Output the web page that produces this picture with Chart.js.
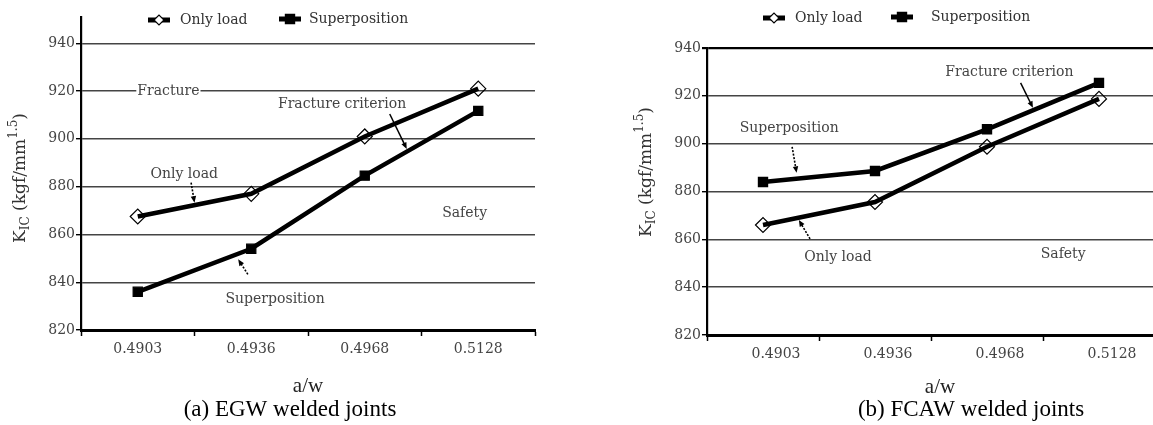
<!DOCTYPE html>
<html>
<head>
<meta charset="utf-8">
<script src="https://cdn.jsdelivr.net/npm/chart.js@4/dist/chart.umd.min.js"></script>
<style>
html, body { margin: 0; padding: 0; background: #fff; overflow: hidden; }
#wrap { position: relative; width: 1153px; height: 425px; overflow: hidden; }
.box { position: absolute; top: 0; height: 425px; }
#boxA { left: 0; width: 576px; }
#boxB { left: 576px; width: 600px; }
</style>
</head>
<body>
<div id="wrap">
    <div class="box" id="boxA"><canvas id="chartA"></canvas></div>
    <div class="box" id="boxB"><canvas id="chartB"></canvas></div>
</div>
<script>
// Données
const categories = ['0.4903', '0.4936', '0.4968', '0.5128'];
const yTicks = [820, 840, 860, 880, 900, 920, 940];
const seriesNames = ['Only load', 'Superposition'];
const egwOnlyLoad = [867.5, 877, 901, 921];
const egwSuperposition = [836, 854, 884.6, 911.7];
const fcawOnlyLoad = [866, 875.6, 898.7, 918.7];
const fcawSuperposition = [884, 888.6, 906, 925.4];
const captions = ['(a) EGW welded joints', '(b) FCAW welded joints'];
const xTitle = 'a/w';

const SERIF = '"DejaVu Serif", serif';
const TIMES = '"Liberation Serif", serif';

// Annotations (index de catégorie, valeur)
const notesA = [
    { text: 'Fracture', i: 0.27, v: 920, bg: true },
    { text: 'Fracture criterion', i: 1.80, v: 914.6 },
    { arrow: [2.22, 910.4, 2.37, 895.8] },
    { text: 'Only load', i: 0.41, v: 885 },
    { arrow: [0.47, 881.7, 0.50, 873.3], dotted: true },
    { text: 'Safety', i: 2.88, v: 868.7 },
    { text: 'Superposition', i: 1.21, v: 832.9 },
    { arrow: [0.97, 843.3, 0.885, 849.6], dotted: true }
];
const notesB = [
    { text: 'Superposition', i: 0.234, v: 906.6 },
    { arrow: [0.26, 898.7, 0.30, 887.8], dotted: true },
    { text: 'Fracture criterion', i: 2.20, v: 930 },
    { arrow: [2.30, 925.4, 2.41, 915] },
    { text: 'Only load', i: 0.67, v: 852.6 },
    { arrow: [0.42, 860.2, 0.32, 868.1], dotted: true },
    { text: 'Safety', i: 2.68, v: 853.7 }
];

function drawArrow(ctx, x1, y1, x2, y2, dotted) {
    ctx.save();
    ctx.strokeStyle = '#000';
    ctx.fillStyle = '#000';
    ctx.lineWidth = dotted ? 1.6 : 1.5;
    if (dotted) ctx.setLineDash([2, 1.5]);
    const a = Math.atan2(y2 - y1, x2 - x1);
    const head = 7;
    ctx.beginPath();
    ctx.moveTo(x1, y1);
    ctx.lineTo(x2 - Math.cos(a) * head * 0.6, y2 - Math.sin(a) * head * 0.6);
    ctx.stroke();
    ctx.setLineDash([]);
    ctx.beginPath();
    ctx.moveTo(x2, y2);
    ctx.lineTo(x2 - head * Math.cos(a - 0.4), y2 - head * Math.sin(a - 0.4));
    ctx.lineTo(x2 - head * Math.cos(a + 0.4), y2 - head * Math.sin(a + 0.4));
    ctx.closePath();
    ctx.fill();
    ctx.restore();
}

function drawYTitle(ctx, cx, cy) {
    const big = '17px ' + SERIF, small = '12px ' + SERIF;
    const parts = [
        { t: 'K', f: big, dy: 0 },
        { t: 'IC', f: small, dy: 5 },
        { t: ' (kgf/mm', f: big, dy: 0 },
        { t: '1.5', f: small, dy: -7 },
        { t: ')', f: big, dy: 0 }
    ];
    ctx.save();
    ctx.translate(cx, cy);
    ctx.rotate(-Math.PI / 2);
    ctx.fillStyle = '#333';
    ctx.textBaseline = 'middle';
    ctx.textAlign = 'left';
    let total = 0;
    parts.forEach(p => { ctx.font = p.f; p.w = ctx.measureText(p.t).width; total += p.w; });
    let x = -total / 2;
    parts.forEach(p => { ctx.font = p.f; ctx.fillText(p.t, x, p.dy); x += p.w; });
    ctx.restore();
}

const decorPlugin = {
    id: 'decor',
    afterDraw(chart, args, opts) {
        const ctx = chart.ctx;
        const xs = chart.scales.x, ys = chart.scales.y;

        // légende
        chart.data.datasets.forEach((ds, k) => {
            const it = opts.legend[k];
            ctx.save();
            ctx.strokeStyle = '#000';
            ctx.lineWidth = 5;
            ctx.beginPath();
            ctx.moveTo(it.x0, it.y);
            ctx.lineTo(it.x1, it.y);
            ctx.stroke();
            ctx.fillStyle = ds.pointStyle === 'rect' ? '#000' : '#fff';
            ctx.strokeStyle = '#000';
            ctx.lineWidth = 1.2;
            Chart.helpers.drawPoint(ctx, {
                pointStyle: ds.pointStyle, radius: ds.pointStyle === 'rect' ? 6.5 : 5,
                rotation: 0, borderWidth: 1.2
            }, (it.x0 + it.x1) / 2, it.y);
            ctx.font = '14px ' + SERIF;
            ctx.fillStyle = '#333';
            ctx.textBaseline = 'middle';
            ctx.textAlign = 'left';
            ctx.fillText(ds.label, it.tx, it.y);
            ctx.restore();
        });

        // annotations
        const px = i => xs.getPixelForValue(0) + i * (xs.getPixelForValue(1) - xs.getPixelForValue(0));
        opts.notes.forEach(n => {
            if (n.arrow) {
                const [i1, v1, i2, v2] = n.arrow;
                drawArrow(ctx, px(i1), ys.getPixelForValue(v1), px(i2), ys.getPixelForValue(v2), n.dotted);
                return;
            }
            ctx.save();
            ctx.font = '14px ' + SERIF;
            ctx.textAlign = 'center';
            ctx.textBaseline = 'middle';
            const x = px(n.i), y = ys.getPixelForValue(n.v);
            if (n.bg) {
                const w = ctx.measureText(n.text).width;
                ctx.fillStyle = '#fff';
                ctx.fillRect(x - w / 2 - 1, y - 6, w + 2, 12);
            }
            ctx.fillStyle = '#444';
            ctx.fillText(n.text, x, y);
            ctx.restore();
        });

        // titres
        drawYTitle(ctx, opts.yTitle.x, opts.yTitle.y);
        ctx.save();
        ctx.fillStyle = '#222';
        ctx.textAlign = 'center';
        ctx.textBaseline = 'middle';
        ctx.font = '21px ' + TIMES;
        ctx.fillText(xTitle, opts.xTitle.x, opts.xTitle.y);
        ctx.font = '23px ' + TIMES;
        ctx.fillStyle = '#000';
        ctx.fillText(opts.caption.text, opts.caption.x, opts.caption.y);
        ctx.restore();
    }
};

function makeDataset(label, data, style) {
    return {
        label: label,
        data: data,
        borderColor: '#000',
        borderWidth: 4.5,
        tension: 0,
        pointStyle: style,
        pointRadius: style === 'rect' ? 6.5 : 7.5,
        pointHoverRadius: style === 'rect' ? 6.5 : 7.5,
        pointBackgroundColor: style === 'rect' ? '#000' : 'rgba(255,255,255,0)',
        pointBorderColor: '#000',
        pointBorderWidth: 1.2
    };
}

function makeChart(id, cfg) {
    return new Chart(document.getElementById(id), {
        type: 'line',
        data: {
            labels: categories,
            datasets: [
                makeDataset(seriesNames[0], cfg.onlyLoad, 'rectRot'),
                makeDataset(seriesNames[1], cfg.superposition, 'rect')
            ]
        },
        options: {
            responsive: true,
            maintainAspectRatio: false,
            animation: false,
            layout: { padding: { top: cfg.top, right: cfg.right, left: 0, bottom: 0 } },
            plugins: {
                legend: { display: false },
                tooltip: { enabled: false },
                decor: cfg.decor
            },
            scales: {
                x: {
                    type: 'category',
                    offset: true,
                    grid: { offset: true, drawOnChartArea: false, drawTicks: true, tickLength: 6, tickColor: '#000', tickWidth: 1.5 },
                    border: { color: '#000', width: 3 },
                    ticks: { font: { family: SERIF, size: 14 }, color: '#444', padding: 5, maxRotation: 0, labelOffset: cfg.labelOffset },
                    afterFit: s => { s.height = cfg.xHeight; }
                },
                y: {
                    min: 820,
                    max: cfg.yMax,
                    afterBuildTicks: s => { s.ticks = yTicks.map(v => ({ value: v })); },
                    afterFit: s => { s.width = cfg.yWidth; },
                    grid: {
                        color: c => (cfg.topDark && c.tick && c.tick.value === 940) ? '#000' : '#444',
                        lineWidth: c => (cfg.topDark && c.tick && c.tick.value === 940) ? 2.2 : 1.4,
                        drawTicks: true, tickLength: 5, tickColor: '#000'
                    },
                    border: { color: '#000', width: 2.2 },
                    ticks: { font: { family: SERIF, size: 14 }, color: '#444', padding: 1 }
                }
            }
        },
        plugins: [decorPlugin]
    });
}

makeChart('chartA', {
    onlyLoad: egwOnlyLoad,
    superposition: egwSuperposition,
    top: 17, right: 41, yWidth: 81, yMax: 951, xHeight: 95, labelOffset: 0, topDark: false,
    decor: {
        legend: [{ x0: 148, x1: 170, tx: 180, y: 20 }, { x0: 279, x1: 301, tx: 309, y: 19 }],
        notes: notesA,
        yTitle: { x: 21, y: 178 },
        xTitle: { x: 308, y: 386 },
        caption: { text: captions[0], x: 290, y: 410 }
    }
});

makeChart('chartB', {
    onlyLoad: fcawOnlyLoad,
    superposition: fcawSuperposition,
    top: 48, right: 21, yWidth: 131, yMax: 940, xHeight: 90, labelOffset: 13, topDark: true,
    decor: {
        legend: [{ x0: 187, x1: 209, tx: 219, y: 18 }, { x0: 315, x1: 337, tx: 355, y: 17 }],
        notes: notesB,
        yTitle: { x: 71, y: 172 },
        xTitle: { x: 364, y: 387 },
        caption: { text: captions[1], x: 395, y: 410 }
    }
});
</script>
</body>
</html>
